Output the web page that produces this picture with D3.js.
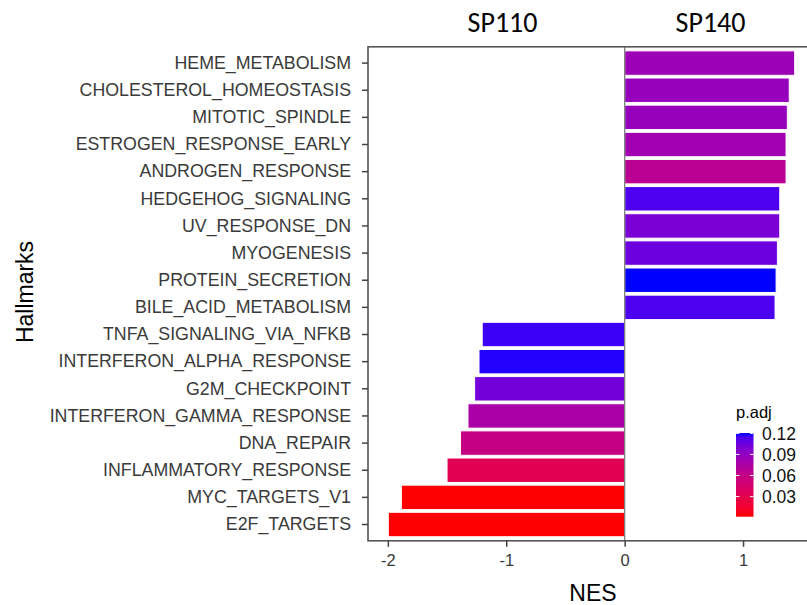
<!DOCTYPE html>
<html>
<head>
<meta charset="utf-8">
<script src="https://cdn.jsdelivr.net/npm/d3@7"></script>
<style>
  body { margin: 0; background: #fff; }
  svg { display: block; }
  text { font-family: "Liberation Sans", Arial, sans-serif; }
</style>
</head>
<body>
<div id="chart"></div>
<script>
// hallmark GSEA bars (top to bottom)
var hallmarks = ["HEME_METABOLISM", "CHOLESTEROL_HOMEOSTASIS", "MITOTIC_SPINDLE",
  "ESTROGEN_RESPONSE_EARLY", "ANDROGEN_RESPONSE", "HEDGEHOG_SIGNALING",
  "UV_RESPONSE_DN", "MYOGENESIS", "PROTEIN_SECRETION", "BILE_ACID_METABOLISM",
  "TNFA_SIGNALING_VIA_NFKB", "INTERFERON_ALPHA_RESPONSE", "G2M_CHECKPOINT",
  "INTERFERON_GAMMA_RESPONSE", "DNA_REPAIR", "INFLAMMATORY_RESPONSE",
  "MYC_TARGETS_V1", "E2F_TARGETS"];
var nes = [1.436, 1.39, 1.374, 1.363, 1.363, 1.31, 1.31, 1.29, 1.279, 1.27,
  -1.203, -1.23, -1.267, -1.323, -1.386, -1.50, -1.886, -1.996];
var padj = [0.085, 0.088, 0.088, 0.082, 0.066, 0.113, 0.100, 0.105, 0.1205, 0.113,
  0.116, 0.119, 0.103, 0.077, 0.058, 0.033, 0.0014, 0.0016];
var xTicks = [-2, -1, 0, 1];
var legendTicks = [0.03, 0.06, 0.09, 0.12];
var groupTitles = ["SP110", "SP140"];

var W = 807, H = 605;
var panel = {left: 368, top: 46.8, bottom: 540.8, right: 815};

var svg = d3.select("#chart").append("svg")
    .attr("width", W)
    .attr("height", H);

// x scale with ggplot-like 5% expansion
var ext = d3.extent(nes), pad = (ext[1] - ext[0]) * 0.05;
var x = d3.scaleLinear()
    .domain([ext[0] - pad, ext[1] + pad])
    .range([panel.left, panel.right]);

var y = d3.scaleBand()
    .domain(hallmarks)
    .range([panel.top, panel.bottom])
    .paddingInner(0.1)
    .paddingOuter(0.15);

var color = d3.scaleLinear()
    .domain(d3.extent(padj))
    .range(["red", "blue"])
    .interpolate(d3.interpolateLab);

var rows = hallmarks.map(function(h, i) { return {name: h, nes: nes[i], p: padj[i]}; });

// panel clip so bars stay within panel
svg.append("clipPath").attr("id", "clip")
  .append("rect")
    .attr("x", panel.left).attr("y", panel.top)
    .attr("width", panel.right - panel.left)
    .attr("height", panel.bottom - panel.top);

var g = svg.append("g").attr("clip-path", "url(#clip)");

g.selectAll("rect.bar")
  .data(rows)
  .enter().append("rect")
    .attr("class", "bar")
    .attr("x", function(d) { return x(Math.min(0, d.nes)); })
    .attr("width", function(d) { return Math.abs(x(d.nes) - x(0)); })
    .attr("y", function(d) { return y(d.name); })
    .attr("height", y.bandwidth())
    .attr("fill", function(d) { return color(d.p); })
    .attr("stroke", "#fff")
    .attr("stroke-width", 1);

// zero line
g.append("line")
    .attr("x1", x(0)).attr("x2", x(0))
    .attr("y1", panel.top).attr("y2", panel.bottom)
    .attr("stroke", "#7f7f7f")
    .attr("stroke-width", 1.3);

// panel border
svg.append("rect")
    .attr("x", panel.left).attr("y", panel.top)
    .attr("width", panel.right - panel.left)
    .attr("height", panel.bottom - panel.top)
    .attr("fill", "none")
    .attr("stroke", "#555")
    .attr("stroke-width", 1.6);

// x axis
var xAxis = svg.append("g")
    .attr("transform", "translate(0," + panel.bottom + ")")
    .call(d3.axisBottom(x).tickValues(xTicks).tickSize(6).tickPadding(7)
      .tickFormat(d3.format("d")));
xAxis.select(".domain").remove();
xAxis.selectAll("line").attr("stroke", "#444").attr("stroke-width", 1.5);
xAxis.selectAll("text").attr("fill", "#3a3a3a").style("font-size", "16.5px")
    .style("font-family", "Liberation Sans, Arial, sans-serif");
xAxis.selectAll("text").text(function(d) { return d < 0 ? "-" + Math.abs(d) : d; });

// y axis
var yAxis = svg.append("g")
    .attr("transform", "translate(" + panel.left + ",0)")
    .call(d3.axisLeft(y).tickSize(6).tickPadding(11));
yAxis.select(".domain").remove();
yAxis.selectAll("line").attr("stroke", "#444").attr("stroke-width", 1.5);
yAxis.selectAll("text").attr("fill", "#3a3a3a").style("font-size", "17.8px")
    .style("font-family", "Liberation Sans, Arial, sans-serif");

// axis titles
svg.append("text")
    .attr("x", 593).attr("y", 601)
    .attr("text-anchor", "middle")
    .style("font-size", "23px")
    .text("NES");

svg.append("text")
    .attr("transform", "translate(33,292) rotate(-90)")
    .attr("text-anchor", "middle")
    .style("font-size", "23px")
    .text("Hallmarks");

// group titles above the panel
var titleX = [502.5, 710.5];
svg.selectAll("text.group")
  .data(groupTitles)
  .enter().append("text")
    .attr("class", "group")
    .attr("x", function(d, i) { return titleX[i]; })
    .attr("y", 31.5)
    .attr("text-anchor", "middle")
    .style("font-family", "Carlito, Calibri, Lato, sans-serif")
    .style("font-size", "28px")
    .text(function(d) { return d; });

// colour bar legend
var leg = {x: 736, w: 17.5, top: 433, bottom: 516.7};
var ly = d3.scaleLinear().domain(d3.extent(padj)).range([leg.bottom, leg.top]);

var grad = svg.append("defs").append("linearGradient")
    .attr("id", "padjGrad")
    .attr("x1", 0).attr("y1", 1).attr("x2", 0).attr("y2", 0);
d3.range(0, 1.0001, 0.05).forEach(function(t) {
  var v = ly.domain()[0] + t * (ly.domain()[1] - ly.domain()[0]);
  grad.append("stop").attr("offset", t).attr("stop-color", color(v));
});

svg.append("rect")
    .attr("x", leg.x).attr("y", leg.top)
    .attr("width", leg.w).attr("height", leg.bottom - leg.top)
    .attr("fill", "url(#padjGrad)");

svg.selectAll("line.legtick")
  .data(legendTicks)
  .enter().append("g")
  .each(function(d) {
    var s = d3.select(this);
    s.append("line")
      .attr("x1", leg.x).attr("x2", leg.x + 3.5)
      .attr("y1", ly(d)).attr("y2", ly(d))
      .attr("stroke", "#fff").attr("stroke-width", 1);
    s.append("line")
      .attr("x1", leg.x + leg.w - 3.5).attr("x2", leg.x + leg.w)
      .attr("y1", ly(d)).attr("y2", ly(d))
      .attr("stroke", "#fff").attr("stroke-width", 1);
  });

svg.selectAll("text.legtxt")
  .data(legendTicks)
  .enter().append("text")
    .attr("class", "legtxt")
    .attr("x", 762)
    .attr("y", function(d) { return ly(d); })
    .attr("dy", "0.36em")
    .style("font-size", "17.5px")
    .attr("fill", "#111")
    .text(function(d) { return d3.format(".2f")(d); });

svg.append("text")
    .attr("x", 736).attr("y", 418)
    .style("font-size", "16.5px")
    .text("p.adj");
</script>
</body>
</html>
